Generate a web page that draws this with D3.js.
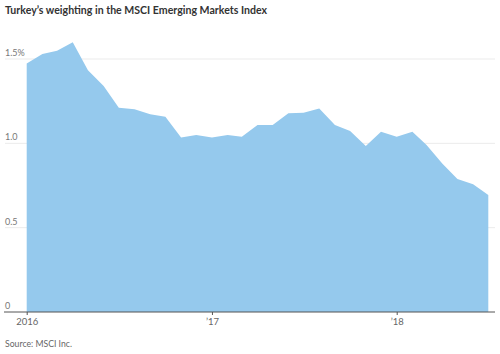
<!DOCTYPE html>
<html>
<head>
<meta charset="utf-8">
<script src="https://cdn.jsdelivr.net/npm/d3@7"></script>
<style>
  body { margin: 0; background: #fff; }
  svg { display: block; font-family: Lato, "Open Sans", sans-serif; }
</style>
</head>
<body>
<svg id="chart"></svg>
<script>
// monthly, Jan 2016 .. Jul 2018
const months = d3.timeMonths(new Date(2016, 0, 1), new Date(2018, 7, 1));
const weights = [1.474, 1.529, 1.549, 1.599, 1.434, 1.340, 1.211, 1.202, 1.172, 1.158, 1.034, 1.049,
                 1.034, 1.049, 1.039, 1.108, 1.108, 1.178, 1.181, 1.207, 1.108, 1.073, 0.984, 1.069,
                 1.039, 1.069, 0.990, 0.881, 0.788, 0.757, 0.694];
const yTicks = [0, 0.5, 1.0, 1.5];
const yTickLabels = ["0", "0.5", "1.0", "1.5%"];
const xTicks = [new Date(2016, 0, 1), new Date(2017, 0, 1), new Date(2018, 0, 1)];
const xTickLabels = ["2016", "\u201917", "\u201918"];

const width = 500, height = 354;
const margin = {top: 59, right: 5, bottom: 42, left: 5};
const plotLeft = 26.7, plotRight = 488.3;

const data = months.map((d, i) => ({date: d, value: weights[i]}));

const svg = d3.select("#chart")
    .attr("width", width)
    .attr("height", height);

const x = d3.scaleTime()
    .domain([months[0], months[months.length - 1]])
    .range([plotLeft, plotRight]);

const y = d3.scaleLinear()
    .domain([0, 1.5])
    .range([height - margin.bottom, margin.top]);

// gridlines
svg.append("g")
    .selectAll("line")
    .data(yTicks.filter(d => d > 0))
    .join("line")
    .attr("x1", margin.left)
    .attr("x2", width - margin.right)
    .attr("y1", d => y(d))
    .attr("y2", d => y(d))
    .attr("stroke", "#ebebeb")
    .attr("stroke-width", 1);

// area
const area = d3.area()
    .x(d => x(d.date))
    .y0(y(0))
    .y1(d => y(d.value));

svg.append("path")
    .datum(data)
    .attr("d", area)
    .attr("fill", "#95c9ed");

// y labels, sitting above gridlines
svg.append("g")
    .selectAll("text")
    .data(yTicks)
    .join("text")
    .attr("x", margin.left)
    .attr("y", d => y(d) - 3)
    .attr("font-size", 9)
    .attr("fill", "#777")
    .text((d, i) => yTickLabels[i]);

// x axis
const xAxis = d3.axisBottom(x)
    .tickValues(xTicks)
    .tickSize(3)
    .tickPadding(3)
    .tickFormat((d, i) => xTickLabels[i]);

const gx = svg.append("g")
    .attr("transform", `translate(0,${y(0)})`)
    .call(xAxis);
gx.select(".domain").remove();
gx.selectAll(".tick line").attr("stroke", "#555");
gx.selectAll(".tick text")
    .attr("font-size", 9.5)
    .attr("font-family", "Lato, sans-serif")
    .attr("fill", "#666");
gx.append("line")
    .attr("x1", margin.left - 1)
    .attr("x2", width - margin.right)
    .attr("stroke", "#555")
    .attr("stroke-width", 1);

// title
svg.append("text")
    .attr("x", 5)
    .attr("y", 14)
    .attr("font-size", 11.5)
    .attr("font-weight", 700)
    .attr("fill", "#333")
    .attr("textLength", 262)
    .attr("lengthAdjust", "spacingAndGlyphs")
    .text("Turkey\u2019s weighting in the MSCI Emerging Markets Index");

// source
svg.append("text")
    .attr("x", 5)
    .attr("y", 347)
    .attr("font-size", 9.5)
    .attr("fill", "#666")
    .attr("textLength", 67)
    .attr("lengthAdjust", "spacingAndGlyphs")
    .text("Source: MSCI Inc.");
</script>
</body>
</html>
